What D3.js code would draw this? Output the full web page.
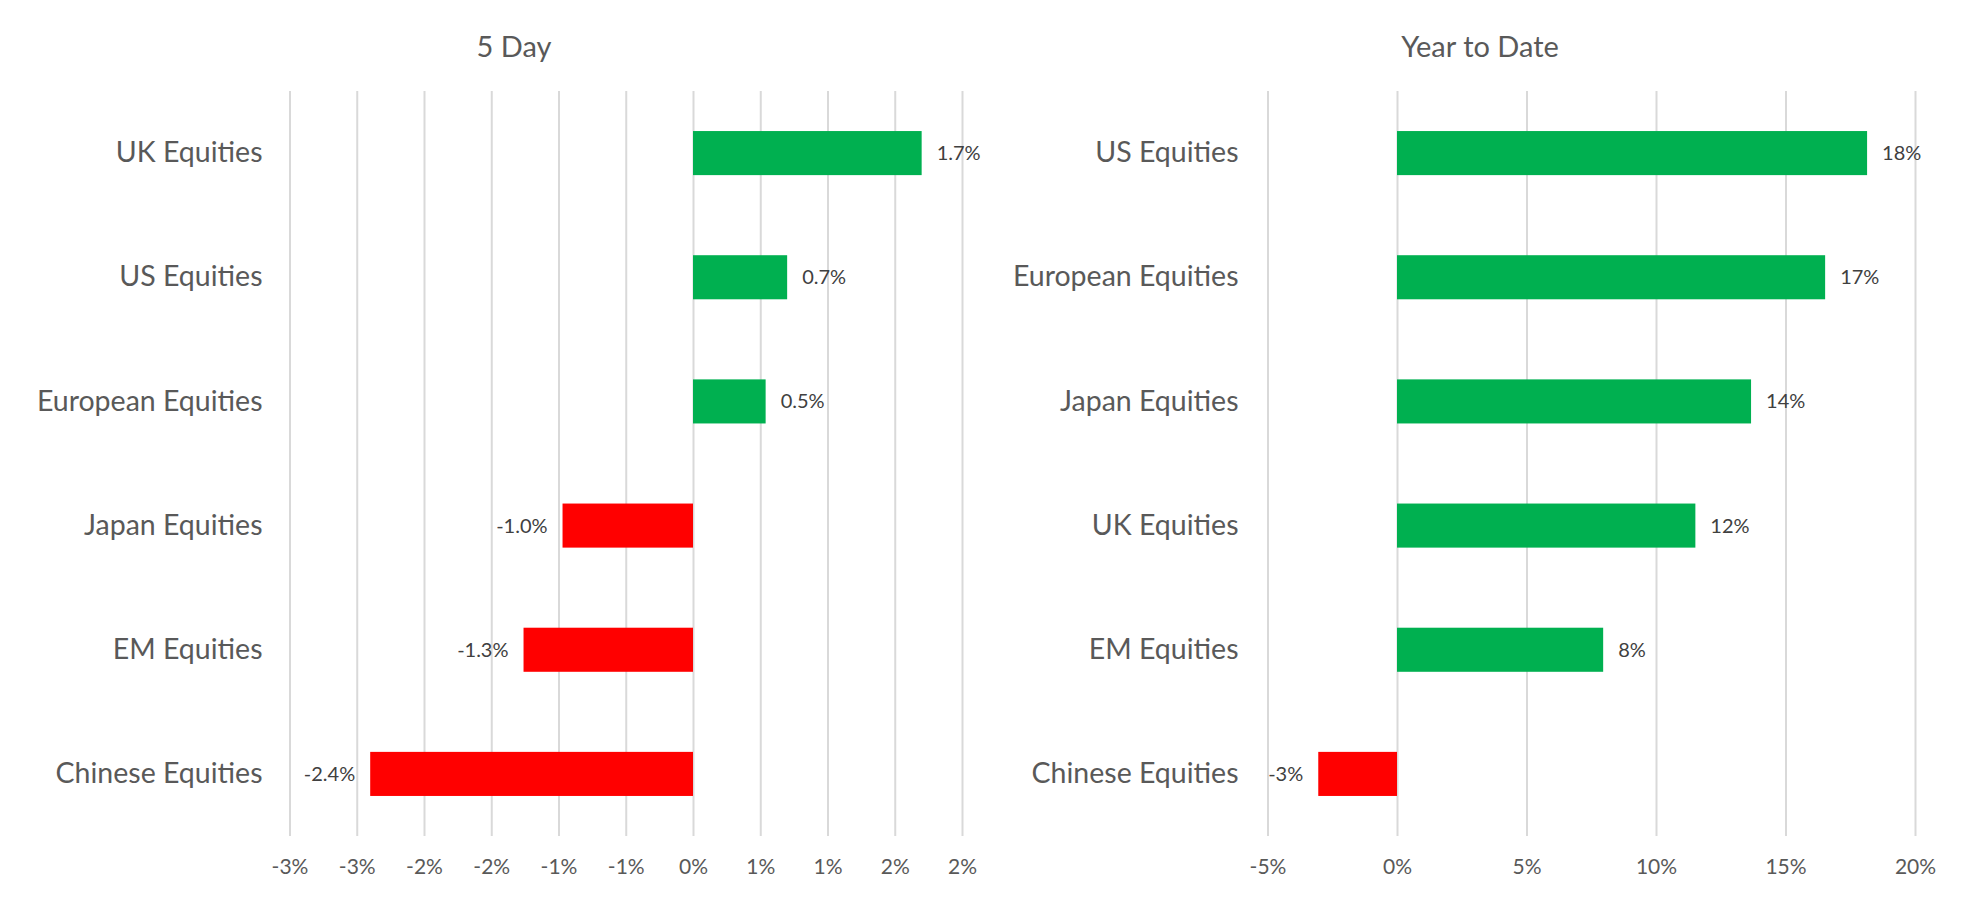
<!DOCTYPE html>
<html>
<head>
<meta charset="utf-8">
<script src="https://cdn.jsdelivr.net/npm/d3@7"></script>
<style>
  body { margin: 0; background: #fff; }
  text { font-family: "Lato", "Open Sans", sans-serif; }
</style>
</head>
<body>
<div id="chart"></div>
<script>
var fiveDayCategories = ["UK Equities", "US Equities", "European Equities", "Japan Equities", "EM Equities", "Chinese Equities"];
var fiveDayValues = [0.0170, 0.0070, 0.0054, -0.0097, -0.0126, -0.0240];
var fiveDayTicks = [-0.03, -0.025, -0.02, -0.015, -0.01, -0.005, 0, 0.005, 0.01, 0.015, 0.02];
var fiveDayTickLabels = ["-3%", "-3%", "-2%", "-2%", "-1%", "-1%", "0%", "1%", "1%", "2%", "2%"];

var ytdCategories = ["US Equities", "European Equities", "Japan Equities", "UK Equities", "EM Equities", "Chinese Equities"];
var ytdValues = [0.1815, 0.1653, 0.1367, 0.1152, 0.0796, -0.0304];
var ytdTicks = [-0.05, 0, 0.05, 0.10, 0.15, 0.20];
var ytdTickLabels = ["-5%", "0%", "5%", "10%", "15%", "20%"];

var W = 1985, H = 907,
    plotTop = 91, plotBottom = 836,
    green = "#00B050", red = "#FF0000",
    grid = "#D9D9D9", textGrey = "#595959", valueGrey = "#404040";

var locale = d3.formatLocale({decimal: ".", thousands: ",", grouping: [3], currency: ["$", ""], minus: "-", percent: "%"});

var svg = d3.select("#chart").append("svg")
    .attr("width", W)
    .attr("height", H);

svg.append("rect").attr("width", W).attr("height", H).attr("fill", "#fff");

function drawPanel(config) {
  var xScale = d3.scaleLinear().domain(config.domain).range(config.range),
      yScale = d3.scaleBand().domain(config.categories).range([plotTop, plotBottom])
        .paddingInner(0.645).paddingOuter(0.3225),
      fmt = locale.format(config.format),
      rows = config.categories.map(function(c, i) { return {name: c, value: config.values[i]}; });

  var g = svg.append("g");

  // title
  g.append("text")
    .attr("x", config.titleX)
    .attr("y", 57)
    .attr("text-anchor", "middle")
    .style("font-size", "29px")
    .style("fill", textGrey)
    .text(config.title);

  // gridlines + tick labels
  var xAxis = d3.axisBottom(xScale)
    .tickValues(config.ticks)
    .tickSize(-(plotBottom - plotTop))
    .tickPadding(23)
    .tickFormat(function(d, i) { return config.tickLabels[i]; });

  var ax = g.append("g")
    .attr("transform", "translate(0," + plotBottom + ")")
    .call(xAxis);
  ax.select(".domain").remove();
  ax.selectAll(".tick line").attr("stroke", grid).attr("stroke-width", 2);
  ax.selectAll(".tick text")
    .style("font-size", "21px")
    .style("fill", textGrey)
    .style("font-family", "Lato, 'Open Sans', sans-serif");

  // bars
  g.selectAll(".bar")
    .data(rows)
    .enter().append("rect")
    .attr("class", "bar")
    .attr("x", function(d) { return xScale(Math.min(0, d.value)); })
    .attr("y", function(d) { return yScale(d.name); })
    .attr("width", function(d) { return Math.abs(xScale(d.value) - xScale(0)); })
    .attr("height", yScale.bandwidth())
    .attr("fill", function(d) { return d.value < 0 ? red : green; });

  // value labels
  g.selectAll(".val")
    .data(rows)
    .enter().append("text")
    .attr("class", "val")
    .attr("x", function(d) { return d.value < 0 ? xScale(d.value) - 15 : xScale(d.value) + 15; })
    .attr("y", function(d) { return yScale(d.name) + yScale.bandwidth() / 2; })
    .attr("dy", ".35em")
    .attr("text-anchor", function(d) { return d.value < 0 ? "end" : "start"; })
    .style("font-size", "20px")
    .style("fill", valueGrey)
    .text(function(d) { return fmt(d.value); });

  // category labels
  var yAxis = d3.axisLeft(yScale).tickSize(0).tickPadding(config.labelPad);
  var ay = g.append("g")
    .attr("transform", "translate(" + config.range[0] + ",0)")
    .call(yAxis);
  ay.select(".domain").remove();
  ay.selectAll(".tick text")
    .style("font-size", "28.5px")
    .style("fill", textGrey)
    .style("font-family", "Lato, 'Open Sans', sans-serif");
}

drawPanel({
  title: "5 Day", titleX: 514,
  categories: fiveDayCategories, values: fiveDayValues,
  ticks: fiveDayTicks, tickLabels: fiveDayTickLabels,
  domain: [-0.03, 0.02], range: [289.5, 962],
  format: ".1%", labelPad: 27
});

drawPanel({
  title: "Year to Date", titleX: 1480,
  categories: ytdCategories, values: ytdValues,
  ticks: ytdTicks, tickLabels: ytdTickLabels,
  domain: [-0.05, 0.20], range: [1267.5, 1915],
  format: ".0%", labelPad: 29
});
</script>
</body>
</html>
